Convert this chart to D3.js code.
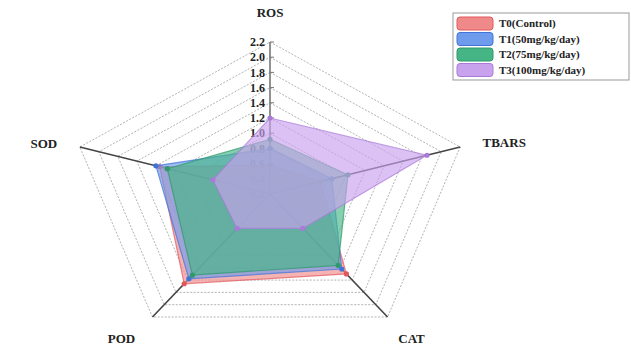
<!DOCTYPE html>
<html>
<head>
<meta charset="utf-8">
<script src="https://cdn.jsdelivr.net/npm/d3@7"></script>
<style>
  html, body { margin: 0; padding: 0; background: #fff; }
  svg { display: block; }
  text { font-family: "Liberation Serif", "Times New Roman", serif; font-weight: bold; }
</style>
</head>
<body>
<svg id="chart" width="631" height="345"></svg>
<script>
// Radar axes (clockwise from the top)
const axes = ["ROS", "TBARS", "CAT", "POD", "SOD"];

// Group values per axis, same order as `axes`
const seriesNames = ["T0(Control)", "T1(50mg/kg/day)", "T2(75mg/kg/day)", "T3(100mg/kg/day)"];
const t0 = [0.58, 0.73, 1.50, 1.66, 1.36];
const t1 = [0.80, 0.85, 1.42, 1.58, 1.40];
const t2 = [0.92, 1.02, 1.36, 1.52, 1.28];
const t3 = [1.20, 1.85, 0.76, 0.76, 0.80];
const seriesValues = [t0, t1, t2, t3];

const fills   = ["#f08a8a", "#6f9bec", "#45b585", "#c9a2ee"];
const strokes = ["#e0585c", "#3f73d8", "#2e9a6a", "#a97ad8"];

// Radial ticks
const tickValues = [0.2, 0.4, 0.6, 0.8, 1.0, 1.2, 1.4, 1.6, 1.8, 2.0, 2.2];
const tickLabels = ["0.2", "0.4", "0.6", "0.8", "1.0", "1.2", "1.4", "1.6", "1.8", "2.0", "2.2"];

const svg = d3.select("#chart");
const cx = 270, cy = 194;
const Rx = 200, Ry = 152;

const r = d3.scaleLinear().domain([0.2, 2.2]).range([0, 1]);
const angle = d3.scalePoint().domain(axes).range([0, 2 * Math.PI * 4 / 5]);

function pt(axis, v) {
  const a = angle(axis), f = r(v);
  return [cx + f * Rx * Math.sin(a), cy - f * Ry * Math.cos(a)];
}

// Dashed grid rings
const ringG = svg.append("g");
tickValues.slice(1).forEach(t => {
  ringG.append("path")
    .attr("d", d3.line()(axes.map(a => pt(a, t))) + "Z")
    .attr("fill", "none")
    .attr("stroke", "#a0a0a0")
    .attr("stroke-width", 0.8)
    .attr("stroke-dasharray", "2,1.5");
});

// Axis spokes
const spokeG = svg.append("g");
axes.forEach(a => {
  const [x, y] = pt(a, 2.2);
  spokeG.append("line")
    .attr("x1", cx).attr("y1", cy).attr("x2", x).attr("y2", y)
    .attr("stroke", a === "ROS" ? "#777" : "#444").attr("stroke-width", 1.6);
});

// Radial tick labels along the ROS spoke
const tickG = svg.append("g");
tickValues.forEach((t, i) => {
  const [x, y] = pt("ROS", t);
  tickG.append("line").attr("x1", x).attr("x2", x + 4).attr("y1", y).attr("y2", y)
    .attr("stroke", "#777").attr("stroke-width", 1);
  tickG.append("text")
    .attr("x", x - 5).attr("y", y).attr("dy", "0.35em")
    .attr("text-anchor", "end").attr("font-size", 12).attr("fill", "#222")
    .text(tickLabels[i]);
});

// Series polygons
const polyG = svg.append("g");
seriesValues.forEach((vals, i) => {
  const pts = axes.map((a, j) => pt(a, vals[j]));
  polyG.append("path")
    .attr("d", d3.line()(pts) + "Z")
    .attr("fill", fills[i]).attr("fill-opacity", 0.65)
    .attr("stroke", strokes[i]).attr("stroke-width", 1.2).attr("stroke-opacity", 0.7);
  polyG.selectAll(null).data(pts).enter().append("circle")
    .attr("cx", d => d[0]).attr("cy", d => d[1]).attr("r", 2.6)
    .attr("fill", strokes[i]);
});

// Axis titles
const titleOffsets = { ROS: [0, -30], TBARS: [44, -5], CAT: [24, 21], POD: [-31, 21], SOD: [-36, -4] };
axes.forEach(a => {
  const [x, y] = pt(a, 2.2);
  const o = titleOffsets[a];
  svg.append("text")
    .attr("x", x + o[0]).attr("y", y + o[1]).attr("dy", "0.35em")
    .attr("text-anchor", "middle").attr("font-size", 13).attr("fill", "#222")
    .text(a);
});

// Legend
const legend = svg.append("g").attr("transform", "translate(453,13)");
legend.append("rect").attr("width", 176).attr("height", 67)
  .attr("fill", "#fff").attr("stroke", "#999").attr("stroke-width", 1);
seriesNames.forEach((name, i) => {
  const y = 4 + i * 15.5;
  legend.append("rect").attr("x", 4).attr("y", y).attr("width", 36).attr("height", 13)
    .attr("rx", 3).attr("fill", fills[i]).attr("stroke", strokes[i]).attr("stroke-width", 1);
  legend.append("text").attr("x", 46).attr("y", y + 6.5).attr("dy", "0.35em")
    .attr("font-size", 11).attr("fill", "#222").text(name);
});
</script>
</body>
</html>
